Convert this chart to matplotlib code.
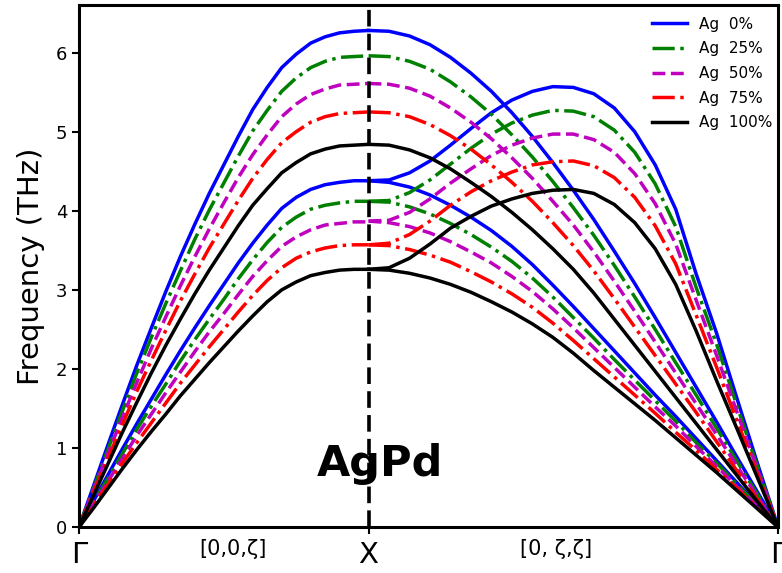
import numpy as np
import matplotlib
matplotlib.use("Agg")
import matplotlib.pyplot as plt

# ---------------- data (THz) ----------------
labels = ["Ag  0%", "Ag  25%", "Ag  50%", "Ag  75%", "Ag  100%"]
colors = ["blue", "green", "m", "red", "black"]
styles = ["-", "-.", "--", "-.", "-"]

# Gamma -> X, zeta = 0 .. 1 (21 samples)
zeta_gx = [i / 20 for i in range(21)]
gx_L = [
    [0, 0.52, 1.04, 1.55, 2.05, 2.52, 2.98, 3.42, 3.83, 4.22, 4.58, 4.94, 5.28, 5.56, 5.81, 5.98, 6.12, 6.20, 6.25, 6.27, 6.28],
    [0, 0.49, 0.98, 1.47, 1.95, 2.40, 2.83, 3.24, 3.64, 4.01, 4.35, 4.69, 5.01, 5.27, 5.51, 5.68, 5.81, 5.89, 5.94, 5.95, 5.96],
    [0, 0.47, 0.93, 1.39, 1.83, 2.26, 2.66, 3.05, 3.42, 3.77, 4.10, 4.42, 4.71, 4.96, 5.19, 5.35, 5.47, 5.54, 5.59, 5.60, 5.61],
    [0, 0.44, 0.87, 1.30, 1.72, 2.11, 2.49, 2.86, 3.20, 3.53, 3.83, 4.13, 4.41, 4.65, 4.86, 5.00, 5.12, 5.19, 5.23, 5.24, 5.25],
    [0, 0.40, 0.80, 1.20, 1.58, 1.95, 2.30, 2.63, 2.95, 3.25, 3.53, 3.81, 4.07, 4.28, 4.48, 4.61, 4.72, 4.78, 4.82, 4.83, 4.84],
]
gx_T = [
    [0, 0.33, 0.66, 0.99, 1.31, 1.62, 1.93, 2.23, 2.52, 2.80, 3.07, 3.34, 3.59, 3.82, 4.03, 4.17, 4.27, 4.33, 4.36, 4.38, 4.38],
    [0, 0.31, 0.62, 0.93, 1.24, 1.53, 1.81, 2.10, 2.37, 2.63, 2.88, 3.14, 3.38, 3.60, 3.79, 3.92, 4.02, 4.07, 4.10, 4.12, 4.12],
    [0, 0.29, 0.58, 0.87, 1.16, 1.43, 1.70, 1.96, 2.22, 2.47, 2.70, 2.94, 3.17, 3.37, 3.55, 3.67, 3.76, 3.82, 3.84, 3.86, 3.86],
    [0, 0.27, 0.54, 0.81, 1.07, 1.32, 1.57, 1.82, 2.05, 2.28, 2.50, 2.72, 2.93, 3.12, 3.28, 3.40, 3.48, 3.53, 3.56, 3.57, 3.57],
    [0, 0.24, 0.49, 0.74, 0.98, 1.21, 1.43, 1.66, 1.87, 2.08, 2.28, 2.48, 2.67, 2.85, 3.00, 3.10, 3.18, 3.22, 3.25, 3.26, 3.26],
]

# X -> Gamma, fraction of path t = 0 .. 1 (21 samples)
t_xg = [i / 20 for i in range(21)]
xg_A = [
    [6.28, 6.27, 6.21, 6.10, 5.94, 5.74, 5.51, 5.24, 4.94, 4.61, 4.26, 3.89, 3.49, 3.08, 2.65, 2.21, 1.77, 1.33, 0.88, 0.44, 0],
    [5.96, 5.95, 5.89, 5.79, 5.63, 5.44, 5.22, 4.96, 4.68, 4.37, 4.04, 3.69, 3.31, 2.91, 2.50, 2.08, 1.67, 1.25, 0.83, 0.41, 0],
    [5.61, 5.60, 5.55, 5.45, 5.30, 5.12, 4.91, 4.67, 4.41, 4.12, 3.82, 3.48, 3.11, 2.73, 2.34, 1.95, 1.56, 1.17, 0.77, 0.38, 0],
    [5.25, 5.24, 5.19, 5.09, 4.95, 4.78, 4.58, 4.36, 4.12, 3.85, 3.56, 3.24, 2.89, 2.53, 2.17, 1.81, 1.45, 1.08, 0.71, 0.35, 0],
    [4.84, 4.83, 4.77, 4.67, 4.53, 4.36, 4.18, 3.98, 3.76, 3.52, 3.26, 2.96, 2.63, 2.30, 1.97, 1.64, 1.31, 0.98, 0.65, 0.32, 0],
]
xg_B = [
    [4.38, 4.39, 4.48, 4.63, 4.83, 5.04, 5.24, 5.40, 5.51, 5.57, 5.56, 5.48, 5.30, 5.00, 4.58, 4.02, 3.20, 2.45, 1.62, 0.80, 0],
    [4.12, 4.13, 4.23, 4.39, 4.59, 4.79, 4.97, 5.11, 5.21, 5.27, 5.26, 5.19, 5.02, 4.74, 4.34, 3.80, 3.03, 2.31, 1.53, 0.76, 0],
    [3.87, 3.88, 3.98, 4.15, 4.35, 4.53, 4.70, 4.83, 4.92, 4.97, 4.97, 4.90, 4.74, 4.47, 4.09, 3.58, 2.87, 2.17, 1.45, 0.72, 0],
    [3.57, 3.59, 3.70, 3.87, 4.07, 4.24, 4.38, 4.49, 4.58, 4.62, 4.63, 4.57, 4.42, 4.17, 3.81, 3.33, 2.68, 2.02, 1.34, 0.67, 0],
    [3.26, 3.28, 3.40, 3.58, 3.78, 3.93, 4.06, 4.15, 4.22, 4.26, 4.27, 4.22, 4.08, 3.85, 3.52, 3.07, 2.48, 1.85, 1.24, 0.62, 0],
]
xg_C = [
    [4.38, 4.36, 4.30, 4.20, 4.07, 3.92, 3.75, 3.55, 3.32, 3.06, 2.79, 2.51, 2.23, 1.95, 1.67, 1.40, 1.12, 0.84, 0.56, 0.28, 0],
    [4.12, 4.11, 4.05, 3.96, 3.84, 3.70, 3.54, 3.36, 3.15, 2.91, 2.65, 2.39, 2.12, 1.86, 1.60, 1.34, 1.07, 0.81, 0.54, 0.27, 0],
    [3.87, 3.85, 3.80, 3.72, 3.61, 3.48, 3.34, 3.17, 2.98, 2.76, 2.52, 2.27, 2.02, 1.77, 1.52, 1.28, 1.02, 0.77, 0.51, 0.26, 0],
    [3.57, 3.56, 3.51, 3.44, 3.35, 3.23, 3.10, 2.95, 2.78, 2.58, 2.36, 2.13, 1.90, 1.67, 1.44, 1.20, 0.97, 0.73, 0.49, 0.24, 0],
    [3.26, 3.25, 3.21, 3.15, 3.07, 2.97, 2.85, 2.72, 2.57, 2.40, 2.20, 1.98, 1.77, 1.56, 1.35, 1.13, 0.91, 0.69, 0.46, 0.23, 0],
]

path_labels = ["Γ", "X", "Γ"]
seg_labels = ["[0,0,ζ]", "[0, ζ,ζ]"]
yticks = [0, 1, 2, 3, 4, 5, 6]

# ---------------- figure ----------------
fig = plt.figure(figsize=(7.82, 5.73), dpi=100)
ax = fig.add_axes([0.101, 0.080, 0.894, 0.911])

seg2 = np.sqrt(2.0)
x_gx = np.array(zeta_gx)
x_xg = 1.0 + seg2 * np.array(t_xg)

lw = 2.5
for i in range(5):
    kw = dict(color=colors[i], ls=styles[i], lw=lw, solid_joinstyle="round")
    ax.plot(x_gx, gx_L[i], label=labels[i], **kw)
    ax.plot(x_gx, gx_T[i], **kw)
    ax.plot(x_xg, xg_A[i], **kw)
    ax.plot(x_xg, xg_B[i], **kw)
    ax.plot(x_xg, xg_C[i], **kw)

xmax = 1.0 + seg2
ax.axvline(1.0, color="black", ls="--", lw=2.6, dashes=(4.6, 2.0))
ax.set_xlim(0, xmax)
ax.set_ylim(0, 6.6)

ax.set_xticks([0, 1.0, xmax])
ax.set_xticklabels(path_labels, fontsize=21)
ax.set_yticks(yticks)
ax.set_yticklabels([str(v) for v in yticks], fontsize=13)
ax.tick_params(axis="both", direction="out", width=1.5, length=5)
ax.tick_params(axis="x", pad=5)
ax.set_ylabel("Frequency (THz)", fontsize=21, labelpad=8)

ax.text(0.533, -0.022, seg_labels[0], transform=ax.get_xaxis_transform(),
        ha="center", va="top", fontsize=15)
ax.text(1.649, -0.022, seg_labels[1], transform=ax.get_xaxis_transform(),
        ha="center", va="top", fontsize=15)

ax.text(1.038, 0.8, "AgPd", ha="center", va="center", fontsize=31,
        fontweight="bold")

for s in ax.spines.values():
    s.set_linewidth(2.2)

ax.legend(loc="upper right", frameon=False, fontsize=11, handlelength=2.3,
          labelspacing=0.63, bbox_to_anchor=(1.012, 1.004))

fig.savefig("out.png", dpi=100)
